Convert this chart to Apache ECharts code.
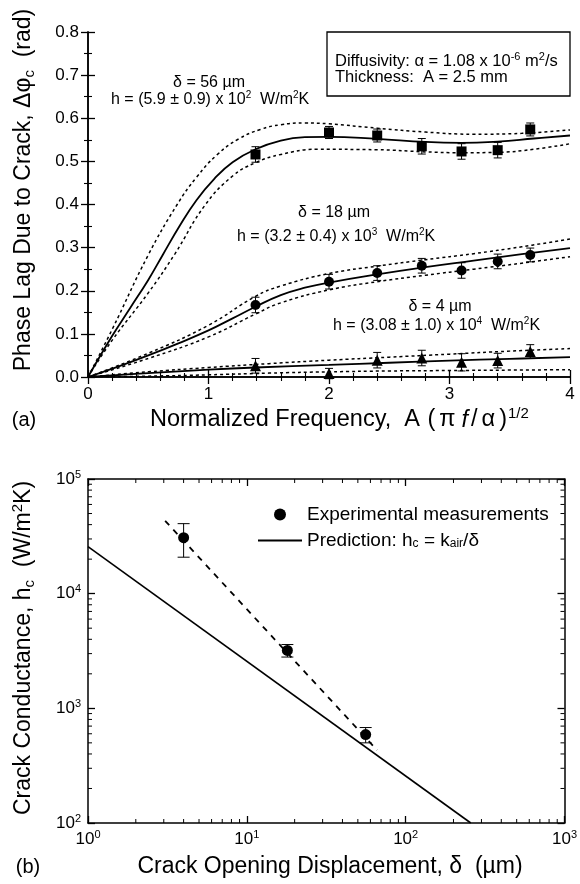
<!DOCTYPE html>
<html><head><meta charset="utf-8">
<script src="https://cdn.jsdelivr.net/npm/echarts@6/dist/echarts.min.js"></script>
<style>html,body{margin:0;padding:0;background:#fff}#c{width:580px;height:884px}</style>
</head><body><div id="c"></div>
<script>
const FONT = '"Liberation Sans", Arial, Helvetica, sans-serif';

// ---------- Panel (a) data ----------
const freqX = [1.39, 2.0, 2.4, 2.77, 3.1, 3.4, 3.67];
const lag56 = [0.516, 0.567, 0.560, 0.535, 0.523, 0.526, 0.574];
const err56 = [0.018, 0.014, 0.015, 0.018, 0.018, 0.018, 0.015];
const lag18 = [0.167, 0.221, 0.241, 0.258, 0.247, 0.268, 0.283];
const err18 = [0.018, 0.017, 0.017, 0.017, 0.018, 0.017, 0.016];
const lag4  = [0.026, 0.008, 0.039, 0.044, 0.034, 0.038, 0.059];
const err4  = [0.017, 0.012, 0.018, 0.018, 0.020, 0.017, 0.016];

const fit56   = [[0,0],[0.2,0.095],[0.35,0.16],[0.5,0.225],[0.62,0.283],[0.76,0.35],[0.9,0.41],[1.05,0.46],[1.2,0.498],[1.39,0.528],[1.6,0.548],[1.8,0.556],[2.0,0.557],[2.4,0.552],[2.8,0.545],[3.1,0.543],[3.4,0.546],[3.7,0.553],[4,0.560]];
const upper56 = [[0,0],[0.2,0.11],[0.5,0.283],[0.74,0.40],[0.9,0.463],[1.07,0.515],[1.25,0.552],[1.43,0.574],[1.6,0.585],[1.8,0.589],[2.0,0.587],[2.4,0.577],[2.8,0.568],[3.2,0.563],[3.6,0.565],[4,0.573]];
const lower56 = [[0,0],[0.2,0.085],[0.5,0.195],[0.72,0.285],[0.97,0.398],[1.2,0.466],[1.39,0.497],[1.6,0.516],[1.9,0.528],[2.4,0.527],[2.8,0.522],[3.1,0.52],[3.4,0.521],[3.7,0.528],[4,0.541]];
const fit18   = [[0,0],[0.25,0.024],[0.5,0.05],[0.75,0.078],[1,0.108],[1.2,0.136],[1.39,0.163],[1.6,0.19],[1.8,0.207],[2.0,0.219],[2.4,0.238],[2.8,0.255],[3.2,0.270],[3.6,0.285],[4,0.299]];
const upper18 = [[0,0],[0.5,0.055],[1,0.12],[1.39,0.187],[1.6,0.211],[2,0.24],[2.4,0.257],[2.8,0.272],[3.2,0.286],[3.6,0.302],[4,0.320]];
const lower18 = [[0,0],[0.5,0.043],[1,0.093],[1.39,0.146],[1.6,0.172],[2,0.202],[2.4,0.221],[2.8,0.236],[3.2,0.25],[3.6,0.264],[4,0.279]];
const fit4    = [[0,0],[0.5,0.009],[1,0.017],[1.39,0.022],[2,0.028],[2.5,0.033],[3,0.038],[3.5,0.042],[4,0.046]];
const upper4  = [[0,0],[0.5,0.012],[1,0.022],[1.5,0.031],[2,0.039],[2.5,0.046],[3,0.053],[3.5,0.060],[4,0.066]];
const lower4  = [[0,0],[0.5,0.002],[1,0.005],[1.5,0.009],[2,0.012],[2.5,0.014],[3,0.015],[3.5,0.016],[4,0.017]];

// ---------- Panel (b) data ----------
const opening = [4, 18, 56];
const conductance = [30800, 3200, 590];
const conductanceErr = [10000, 400, 90];
const predX = [1, 257];
const predY = [25700, 100];
const fitBX = [3.06, 66];
const fitBY = [43200, 433];
const logXMin = 1, logXMax = 1000, logYMin = 100, logYMax = 100000;
const logMinorX = [2,3,4,5,6,7,8,9,20,30,40,50,60,70,80,90,200,300,400,500,600,700,800,900];
const logMinorY = [200,300,400,500,600,700,800,900,2000,3000,4000,5000,6000,7000,8000,9000,20000,30000,40000,50000,60000,70000,80000,90000];

function rich(fs) {
  return {
    sup: {fontSize: Math.round(fs*0.65), fontFamily: FONT, padding: [0,0,Math.round(fs*0.55),0]},
    sub: {fontSize: Math.round(fs*0.65), fontFamily: FONT, padding: [Math.round(fs*0.5),0,0,0]},
    it: {fontSize: fs, fontFamily: FONT, fontStyle: 'italic', padding: [0,2,0,3]},
    g: {fontSize: fs, fontFamily: FONT, padding: [0,3,0,3]},
    p: {fontSize: fs, fontFamily: FONT, padding: [0,1,0,1]}
  };
}

function errRender(capHalf, lw) {
  return function (params, api) {
    const x = api.value(0), y = api.value(1), e = api.value(2);
    const hi = api.coord([x, y + e]), lo = api.coord([x, y - e]);
    const st = {stroke: '#000', lineWidth: lw};
    return {type: 'group', children: [
      {type: 'line', shape: {x1: hi[0], y1: hi[1], x2: lo[0], y2: lo[1]}, style: st},
      {type: 'line', shape: {x1: hi[0]-capHalf, y1: hi[1], x2: hi[0]+capHalf, y2: hi[1]}, style: st},
      {type: 'line', shape: {x1: lo[0]-capHalf, y1: lo[1], x2: lo[0]+capHalf, y2: lo[1]}, style: st}
    ]};
  };
}
function minorXRender(params, api) {
  const v = api.value(0);
  const b = api.coord([v, logYMin]), t = api.coord([v, logYMax]);
  const st = {stroke: '#000', lineWidth: 1};
  return {type: 'group', children: [
    {type: 'line', shape: {x1: b[0], y1: b[1], x2: b[0], y2: b[1]-4}, style: st},
    {type: 'line', shape: {x1: t[0], y1: t[1], x2: t[0], y2: t[1]+4}, style: st}
  ]};
}
function minorYRender(params, api) {
  const v = api.value(1);
  const l = api.coord([logXMin, v]), r = api.coord([logXMax, v]);
  const st = {stroke: '#000', lineWidth: 1};
  return {type: 'group', children: [
    {type: 'line', shape: {x1: l[0], y1: l[1], x2: l[0]+4, y2: l[1]}, style: st},
    {type: 'line', shape: {x1: r[0], y1: r[1], x2: r[0]-4, y2: r[1]}, style: st}
  ]};
}

const axisLineA = {show: true, lineStyle: {color: '#000', width: 1.5}};
const tickA = {show: true, inside: true, length: 7, lineStyle: {color: '#000', width: 1.3}};
const minorA = (n) => ({show: true, splitNumber: n, length: 4, lineStyle: {color: '#000', width: 1.1}});
const lbl = {color: '#000', fontSize: 17, fontFamily: FONT};

function pairs(xs, ys) { return xs.map((x, i) => [x, ys[i]]); }
function triples(xs, ys, es) { return xs.map((x, i) => [x, ys[i], es[i]]); }

function lineSeries(data, dotted, w) {
  return {type: 'line', xAxisIndex: 0, yAxisIndex: 0, data: data, smooth: 0.45, showSymbol: false, symbol: 'none',
    lineStyle: {color: '#000', width: w, type: dotted ? [3, 3] : 'solid'}, silent: true, z: 3};
}

const logLabel = {
  color: '#000', fontFamily: FONT, fontSize: 17,
  formatter: v => '{b|10}{s|' + Math.round(Math.log10(v)) + '}',
  rich: {b: {fontSize: 17, fontFamily: FONT}, s: {fontSize: 11, fontFamily: FONT, padding: [0,0,9,0]}}
};

function txt(x, y, text, fs, align, extra) {
  return Object.assign({type: 'text', x: x, y: y, z: 50, style: {text: text, fill: '#000', fontSize: fs, fontFamily: FONT,
    align: align || 'left', verticalAlign: 'middle', rich: rich(fs)}}, extra || {});
}

const option = {
  backgroundColor: '#fff',
  animation: false,
  grid: [
    {left: 88, top: 32, width: 482, height: 345},
    {left: 88, top: 479, width: 482, height: 344}
  ],
  xAxis: [
    {type: 'value', gridIndex: 0, min: 0, max: 4, interval: 1, position: 'bottom',
     axisLine: axisLineA, axisTick: tickA, minorTick: minorA(5), splitLine: {show: false},
     axisLabel: Object.assign({margin: 9}, lbl)},
    {type: 'value', gridIndex: 0, min: 0, max: 4, interval: 1, position: 'top',
     axisLine: axisLineA, axisTick: tickA, minorTick: minorA(5), splitLine: {show: false}, axisLabel: {show: false}},
    {type: 'log', gridIndex: 1, min: logXMin, max: logXMax, logBase: 10, position: 'bottom',
     axisLine: axisLineA, axisTick: tickA, splitLine: {show: false}, axisLabel: Object.assign({margin: 6}, logLabel)},
    {type: 'log', gridIndex: 1, min: logXMin, max: logXMax, logBase: 10, position: 'top',
     axisLine: axisLineA, axisTick: tickA, splitLine: {show: false}, axisLabel: {show: false}}
  ],
  yAxis: [
    {type: 'value', gridIndex: 0, min: 0, max: 0.8, interval: 0.1, position: 'left',
     axisLine: axisLineA, axisTick: tickA, minorTick: minorA(2), splitLine: {show: false},
     axisLabel: Object.assign({margin: 9, formatter: v => v.toFixed(1)}, lbl)},
    {type: 'value', gridIndex: 0, min: 0, max: 0.8, interval: 0.1, position: 'right',
     axisLine: axisLineA, axisTick: tickA, minorTick: minorA(2), splitLine: {show: false}, axisLabel: {show: false}},
    {type: 'log', gridIndex: 1, min: logYMin, max: logYMax, logBase: 10, position: 'left',
     axisLine: axisLineA, axisTick: tickA, splitLine: {show: false}, axisLabel: Object.assign({margin: 7}, logLabel)},
    {type: 'log', gridIndex: 1, min: logYMin, max: logYMax, logBase: 10, position: 'right',
     axisLine: axisLineA, axisTick: tickA, splitLine: {show: false}, axisLabel: {show: false}}
  ],
  legend: {
    orient: 'vertical', left: 252, top: 500, itemWidth: 44, itemHeight: 12, itemGap: 7,
    data: [{name: 'Experimental measurements', icon: 'circle'}, {name: 'Prediction'}],
    formatter: n => n === 'Prediction' ? 'Prediction: h{sub|c} = k{sub|air}/δ' : n,
    textStyle: {color: '#000', fontSize: 19, fontFamily: FONT,
      rich: {sub: {fontSize: 12, fontFamily: FONT, padding: [7,0,0,0]}}},
    selectedMode: false
  },
  series: [
    lineSeries(fit56, false, 1.8), lineSeries(upper56, true, 1.5), lineSeries(lower56, true, 1.5),
    lineSeries(fit18, false, 1.8), lineSeries(upper18, true, 1.5), lineSeries(lower18, true, 1.5),
    lineSeries(fit4, false, 1.8), lineSeries(upper4, true, 1.5), lineSeries(lower4, true, 1.5),
    {type: 'custom', xAxisIndex: 0, yAxisIndex: 0, renderItem: errRender(4, 1), data: triples(freqX, lag56, err56), encode: {x: 0, y: 1}, z: 4, silent: true},
    {type: 'custom', xAxisIndex: 0, yAxisIndex: 0, renderItem: errRender(4, 1), data: triples(freqX, lag18, err18), encode: {x: 0, y: 1}, z: 4, silent: true},
    {type: 'custom', xAxisIndex: 0, yAxisIndex: 0, renderItem: errRender(4, 1), data: triples(freqX, lag4, err4), encode: {x: 0, y: 1}, z: 4, silent: true},
    {type: 'scatter', xAxisIndex: 0, yAxisIndex: 0, data: pairs(freqX, lag56), symbol: 'rect', symbolSize: 10, itemStyle: {color: '#000', opacity: 1}, z: 5, silent: true},
    {type: 'scatter', xAxisIndex: 0, yAxisIndex: 0, data: pairs(freqX, lag18), symbol: 'circle', symbolSize: 10, itemStyle: {color: '#000', opacity: 1}, z: 5, silent: true},
    {type: 'scatter', xAxisIndex: 0, yAxisIndex: 0, data: pairs(freqX, lag4), symbol: 'triangle', symbolSize: 11, itemStyle: {color: '#000', opacity: 1}, z: 5, silent: true},
    // Panel (b)
    {type: 'custom', xAxisIndex: 2, yAxisIndex: 2, renderItem: minorXRender, data: logMinorX.map(v => [v, logYMin]), encode: {x: 0, y: 1}, clip: false, silent: true, z: 6},
    {type: 'custom', xAxisIndex: 2, yAxisIndex: 2, renderItem: minorYRender, data: logMinorY.map(v => [logXMin, v]), encode: {x: 0, y: 1}, clip: false, silent: true, z: 6},
    {name: 'Prediction', type: 'line', xAxisIndex: 2, yAxisIndex: 2, data: pairs(predX, predY), showSymbol: false, symbol: 'none',
     itemStyle: {color: '#000', opacity: 0}, lineStyle: {color: '#000', width: 1.6, opacity: 1}, silent: true},
    {type: 'line', xAxisIndex: 2, yAxisIndex: 2, data: pairs(fitBX, fitBY), showSymbol: false, symbol: 'none',
     lineStyle: {color: '#000', width: 1.8, type: [6, 6]}, silent: true},
    {type: 'custom', xAxisIndex: 2, yAxisIndex: 2, renderItem: errRender(6, 1), data: triples(opening, conductance, conductanceErr), encode: {x: 0, y: 1}, z: 4, silent: true},
    {name: 'Experimental measurements', type: 'scatter', xAxisIndex: 2, yAxisIndex: 2, data: pairs(opening, conductance), symbol: 'circle', symbolSize: 11,
     itemStyle: {color: '#000', opacity: 1}, z: 5, silent: true}
  ],
  graphic: [
    {type: 'rect', z: 40, shape: {x: 327, y: 32, width: 243, height: 64}, style: {fill: 'none', stroke: '#000', lineWidth: 1.3}},
    txt(335, 61, 'Diffusivity: α = 1.08 x 10{sup|-6} m{sup|2}/s', 16.5),
    txt(335, 77, 'Thickness:  A = 2.5 mm', 16.5),
    txt(209, 83, 'δ = 56 µm', 16, 'center'),
    txt(111, 100, 'h = (5.9 ± 0.9) x 10{sup|2}  W/m{sup|2}K', 16),
    txt(334, 213, 'δ = 18 µm', 16, 'center'),
    txt(237, 237, 'h = (3.2 ± 0.4) x 10{sup|3}  W/m{sup|2}K', 16),
    txt(440, 307, 'δ = 4 µm', 16, 'center'),
    txt(333, 326, 'h = (3.08 ± 1.0) x 10{sup|4}  W/m{sup|2}K', 16),
    txt(24, 190, 'Phase Lag Due to Crack, Δφ{sub|c}  (rad)', 23, 'center', {rotation: Math.PI/2}),
    txt(150, 420, 'Normalized Frequency,  A {p|(}{g|π}{it|f}{p|/}{g|α}{p|)}{sup|1/2}', 23.5, 'left'),
    txt(24, 420, '(a)', 20, 'center'),
    txt(24, 648, 'Crack Conductance, h{sub|c}  (W/m{sup|2}K)', 23, 'center', {rotation: Math.PI/2}),
    txt(330, 867, 'Crack Opening Displacement, δ  (µm)', 23, 'center'),
    txt(28, 867, '(b)', 20, 'center')
  ]
};

const chart = echarts.init(document.getElementById('c'), null, {renderer: 'canvas'});
chart.setOption(option);
</script>
</body></html>
